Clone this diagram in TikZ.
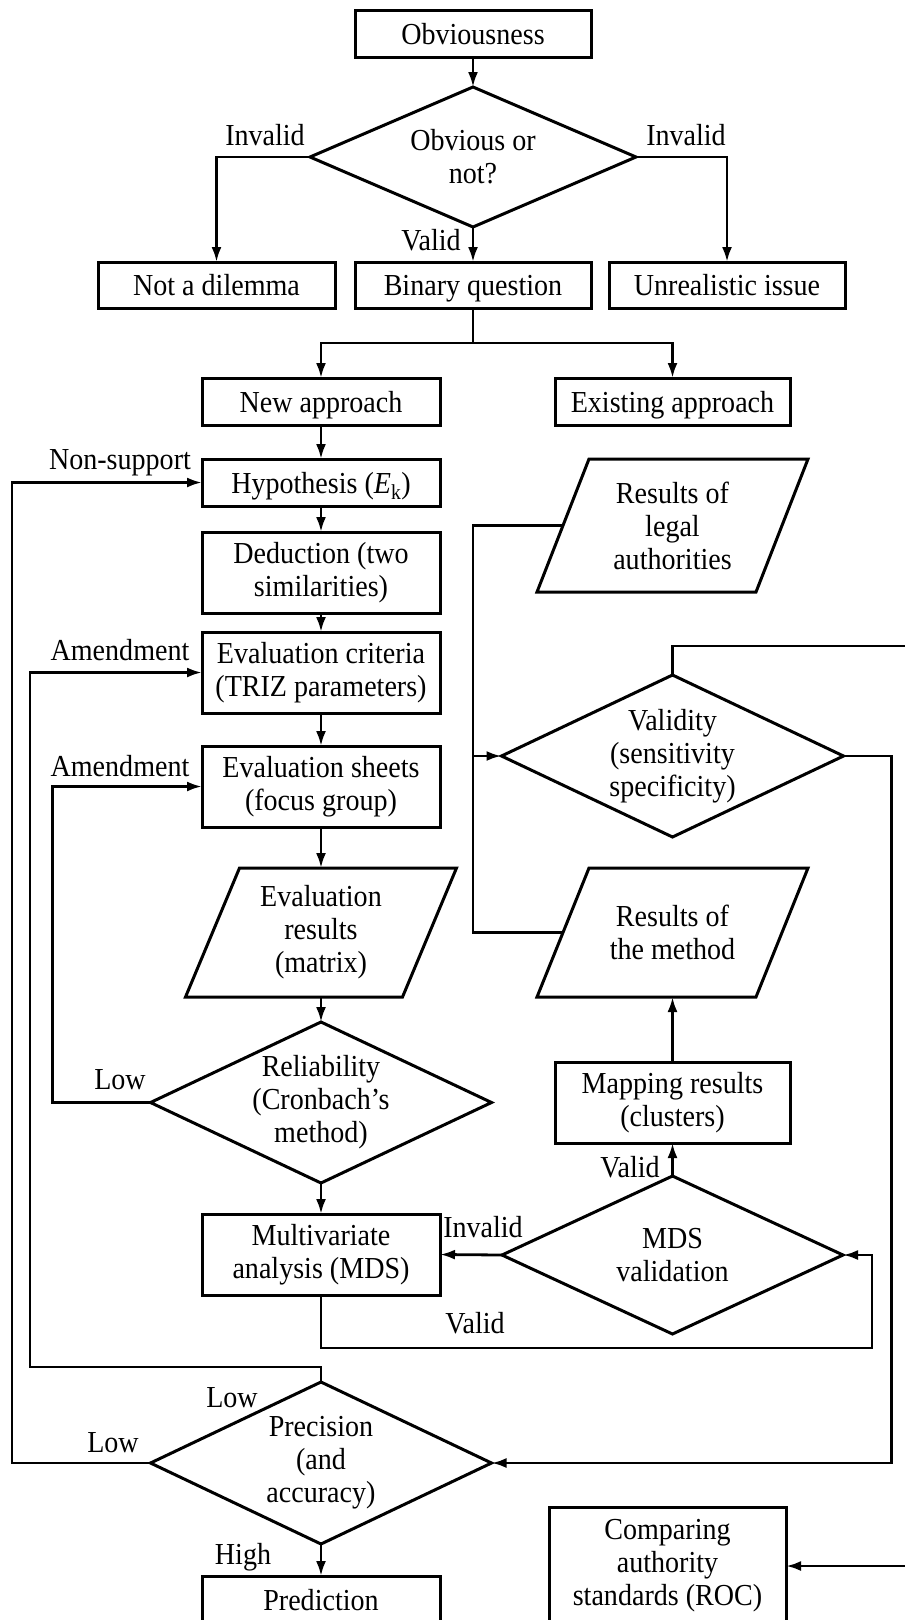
\documentclass[tikz,border=0pt]{standalone}
\usepackage{fontspec}
\setmainfont{Liberation Serif}[FakeStretch=0.92]
\usetikzlibrary{shapes.geometric,arrows.meta}
\tikzset{
  base/.style={draw, line width=3pt, outer sep=0pt, align=center, inner sep=0pt},
  boxnode/.style={base, rectangle, minimum width=237pt, minimum height=47pt},
  oneline/.style={text height=21pt, text depth=0pt},
  tallbox/.style={boxnode, minimum height=81pt},
  dia/.style={base, diamond, aspect=2.1, minimum width=341pt, minimum height=161pt},
  paranode/.style={align=center, inner sep=0pt, outer sep=0pt, minimum width=219pt},
  lbl/.style={inner sep=0pt, align=center},
  ln/.style={line width=2.8pt},
  arr/.style={ln, -{Latex[length=15pt,width=10pt]}},
  every node/.append style={font=\fontsize{30.5}{33}\selectfont},
}
\newcommand\drawpara[2]{\draw[line width=3pt] ([xshift=#2]#1.north west) -- ([xshift=#2]#1.north east) -- ([xshift=-#2]#1.south east) -- ([xshift=-#2]#1.south west) -- cycle;}
\begin{document}
\begin{tikzpicture}[x=1pt, y=-1pt]
\useasboundingbox (0,0) rectangle (905,1620);
\clip (0,0) rectangle (905,1620);
% left / top column
\node[boxnode, oneline, minimum width=236pt] (obv) at (473,33.5) {Obviousness};
\node[dia, minimum width=326pt, minimum height=140pt, aspect=2.33] (dq) at (473,157) {Obvious or\\not?};
\node[boxnode, oneline, minimum height=46pt] (notdil) at (216.5,285) {Not a dilemma};
\node[boxnode, oneline, minimum height=46pt, minimum width=236pt] (binary) at (473,285) {Binary question};
\node[boxnode, oneline, minimum height=46pt, minimum width=236pt] (unreal) at (727,285) {Unrealistic issue};
\node[boxnode, oneline, minimum width=238pt] (newapp) at (321,401.5) {New approach};
\node[boxnode, oneline, minimum width=235pt] (exist) at (672.5,401.5) {Existing approach};
\node[boxnode, oneline, minimum width=238pt] (hyp) at (321,482.5) {Hypothesis (\textit{E}\textsubscript{k})};
\node[tallbox, minimum width=238pt] (ded) at (321,572.5) {Deduction (two\\similarities)};
\node[tallbox, minimum width=238pt] (crit) at (321,672.5) {Evaluation criteria\\(TRIZ parameters)};
\node[tallbox, minimum width=238pt] (sheets) at (321,786.5) {Evaluation sheets\\(focus group)};
\node[paranode, minimum height=129pt, minimum width=217pt] (evres) at (321,932.5) {Evaluation\\results\\(matrix)};
\drawpara{evres}{27pt}
\node[dia] (rel) at (321,1102.5) {Reliability\\(Cronbach’s\\method)};
\node[tallbox, minimum width=238pt] (multi) at (321,1254.5) {Multivariate\\analysis (MDS)};
\node[dia, minimum height=162pt] (prec) at (321,1463) {Precision\\(and\\accuracy)};
\node[boxnode, oneline, minimum width=238pt] (pred) at (321,1599.5) {Prediction};
% right column
\node[paranode, minimum height=133pt] (legal) at (672.5,525.5) {Results of\\legal\\authorities};
\drawpara{legal}{26pt}
\node[dia, minimum width=342pt, minimum height=162pt] (valid) at (672.5,756) {Validity\\(sensitivity\\specificity)};
\node[paranode, minimum height=129pt] (method) at (672.5,932.5) {Results of\\the method};
\drawpara{method}{26pt}
\node[tallbox, minimum width=235pt] (mapping) at (672.5,1102.5) {Mapping results\\(clusters)};
\node[dia, minimum height=158pt] (mds) at (672.5,1255) {MDS\\validation};
\node[boxnode, minimum height=118pt] (comp) at (667.5,1566) {Comparing\\authority\\standards (ROC)};
\coordinate (offA) at (930,646);
\coordinate (offB) at (930,1566);
% labels
\node[lbl] (l1) at (265,135) {Invalid};
\node[lbl] (l2) at (686,135) {Invalid};
\node[lbl] (l3) at (431,240) {Valid};
\node[lbl] (l4) at (120,463) {Non-support};
\node[lbl] (l5) at (120,650) {Amendment};
\node[lbl] (l6) at (120,766) {Amendment};
\node[lbl] (l7) at (120,1080) {Low};
\node[lbl] (l8) at (630,1167) {Valid};
\node[lbl] (l9) at (483,1227) {Invalid};
\node[lbl] (l10) at (475,1323) {Valid};
\node[lbl] (l11) at (232,1398) {Low};
\node[lbl] (l12) at (113,1443) {Low};
\node[lbl] (l13) at (243,1557) {High};
% connectors
\draw[arr] (obv.south) -- (dq.north);
\draw[arr] (dq.west) -| (notdil.north);
\draw[arr] (dq.east) -| (unreal.north);
\draw[arr] (dq.south) -- (binary.north);
\draw[ln] (binary.south) -- ++(0,35) coordinate (sp);
\draw[arr] (sp) -| (newapp.north);
\draw[arr] (sp) -| (exist.north);
\draw[arr] (newapp.south) -- (hyp.north);
\draw[arr] (hyp.south) -- (ded.north);
\draw[arr] (ded.south) -- (crit.north);
\draw[arr] (crit.south) -- (sheets.north);
\draw[arr] (sheets.south) -- (evres.north);
\draw[arr] (evres.south) -- (rel.north);
\draw[arr] (rel.south) -- (multi.north);
\draw[arr] (rel.west) -- ++(-98,0) |- (sheets.west);
\draw[arr] (multi.south) -- (321,1348) -- (872,1348) |- (mds.east);
\draw[arr] (mds.west) -- (multi.east);
\draw[arr] (mds.north) -- (mapping.south);
\draw[arr] (mapping.north) -- (method.south);
\draw[ln] (legal.west) -- ++(-90,0) coordinate (jn) |- (method.west);
\draw[arr] (jn |- valid.west) -- (valid.west);
\draw[ln] (valid.north) |- (offA);
\draw[arr] (valid.east) -- ++(48,0) |- (prec.east);
\draw[arr] (prec.north) -- (321,1367) -- (30,1367) |- (crit.west);
\draw[arr] (prec.west) -- (12,1463) |- (hyp.west);
\draw[arr] (prec.south) -- (pred.north);
\draw[arr] (offB) -- (comp.east);
\end{tikzpicture}
\end{document}
